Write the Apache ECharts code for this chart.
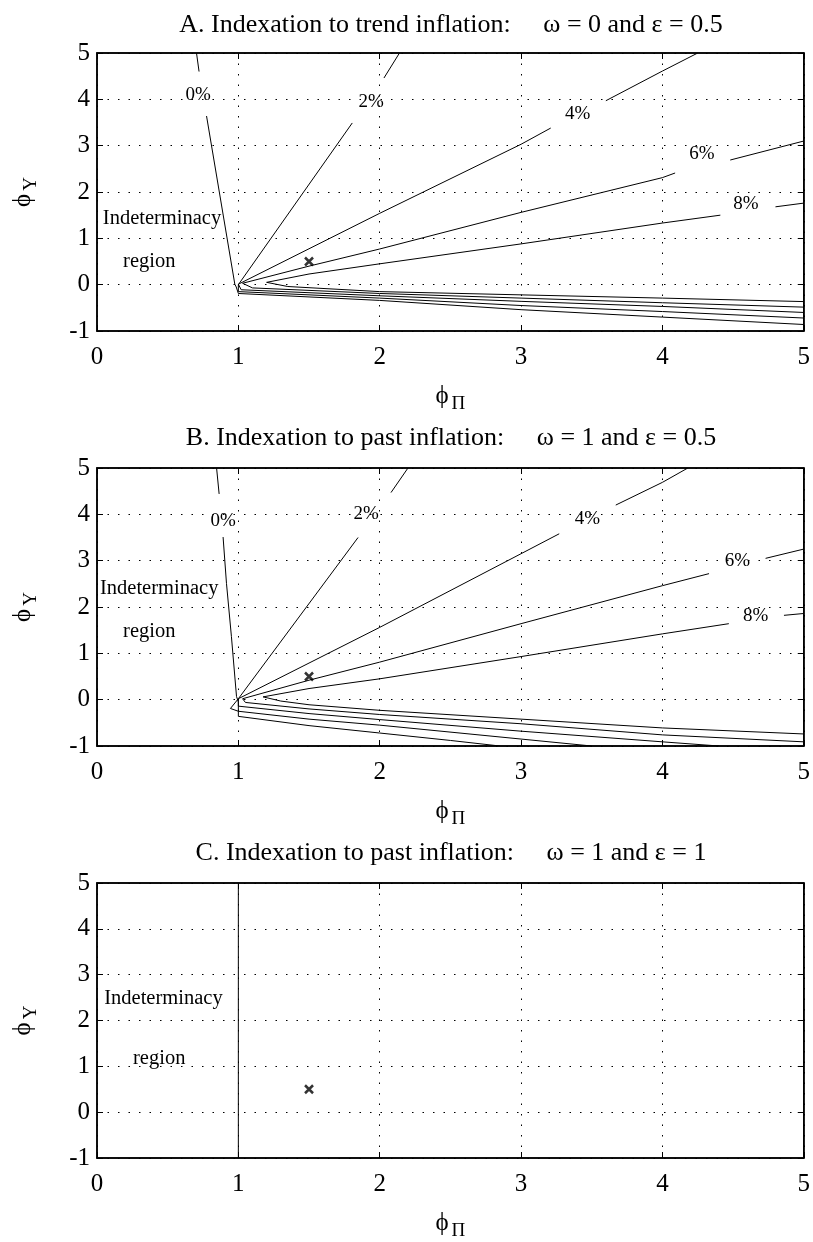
<!DOCTYPE html>
<html lang="en">
<head>
  <meta charset="UTF-8">
  <title>Indeterminacy regions</title>
  <script src="https://cdn.jsdelivr.net/npm/echarts@6/dist/echarts.min.js"></script>
  <style>
    html, body { margin: 0; padding: 0; background: #fff; }
    #chart { width: 813px; height: 1242px; }
  </style>
</head>
<body>
<div id="chart"></div>
<script>
  // titles of the three panels
  var panelTitles = [
    'A. Indexation to trend inflation:     \u03c9 = 0 and \u03b5 = 0.5',
    'B. Indexation to past inflation:     \u03c9 = 1 and \u03b5 = 0.5',
    'C. Indexation to past inflation:     \u03c9 = 1 and \u03b5 = 1'
  ];
  var levels = ['0%', '2%', '4%', '6%', '8%'];

  // panel A contours (null = gap for the label)
  var a0 = [[0.704, 5], [0.722, 4.6], null, [0.775, 3.64], [0.975, 0.01], [0.985, -0.05], [1.0, -0.19], [2, -0.34], [3, -0.54], [4, -0.70], [5, -0.86]];
  var a2 = [[2.14, 5], [2.03, 4.46], null, [1.806, 3.49], [1.0, 0.0], [1.0, -0.15], [2, -0.29], [3, -0.45], [4, -0.58], [5, -0.72]];
  var a4 = [[4.25, 5], [4, 4.61], [3.60, 3.97], null, [3.21, 3.38], [3, 3.03], [2, 1.54], [1.0, 0.01], [1.02, -0.11], [2, -0.24], [3, -0.36], [4, -0.47], [5, -0.60]];
  var a6 = [[5, 3.1], [4.48, 2.69], null, [4.09, 2.41], [4, 2.31], [3, 1.56], [2, 0.77], [1.5, 0.40], [1.03, 0.03], [1.1, -0.07], [2, -0.19], [3, -0.29], [4, -0.39], [5, -0.485]];
  var a8 = [[5, 1.76], [4.80, 1.68], null, [4.41, 1.5], [4, 1.33], [3, 0.88], [2, 0.45], [1.5, 0.23], [1.2, 0.05], [1.35, -0.04], [2, -0.15], [3, -0.22], [4, -0.29], [5, -0.365]];
  var aLabelPos = [[0.715, 4.1], [1.94, 3.95], [3.40, 3.69], [4.28, 2.81], [4.59, 1.74]];

  // panel B contours
  var b0 = [[0.846, 5], [0.864, 4.44], null, [0.892, 3.51], [0.916, 2.51], [0.951, 1.36], [0.987, 0.07], [1.0, -0.05], [1.0, -0.36], [1.5, -0.56], [2, -0.72], [2.5, -0.88], [2.85, -1]];
  var b2 = [[2.2, 5], [2.08, 4.47], null, [1.847, 3.5], [1.0, 0.02], [0.944, -0.19], [1.0, -0.25], [1.5, -0.42], [2, -0.55], [3, -0.85], [3.5, -1]];
  var b4 = [[4.18, 5], [4, 4.69], [3.67, 4.2], null, [3.27, 3.58], [3, 3.15], [2, 1.56], [1.0, 0.02], [1.0, -0.14], [1.5, -0.30], [2, -0.43], [3, -0.68], [4, -0.91], [4.4, -1]];
  var b6 = [[5, 3.25], [4.73, 3.05], null, [4.33, 2.72], [4, 2.46], [3, 1.64], [2, 0.81], [1.5, 0.42], [1.03, 0.02], [1.05, -0.06], [1.5, -0.2], [2, -0.32], [3, -0.52], [4, -0.76], [5, -0.91]];
  var b8 = [[5, 1.86], [4.86, 1.82], null, [4.47, 1.64], [4, 1.42], [3, 0.93], [2, 0.45], [1.5, 0.24], [1.175, 0.06], [1.3, -0.03], [1.5, -0.11], [2, -0.23], [3, -0.42], [4, -0.61], [5, -0.74]];
  var bLabelPos = [[0.892, 3.86], [1.905, 4.0], [3.47, 3.9], [4.53, 3.0], [4.66, 1.8]];

  // panel C: determinacy boundary
  var c0 = [[1, -1], [1, 5]];

  // Taylor rule point (phi_pi, phi_y)
  var ruleMark = [1.5, 0.5];

  // "Indeterminacy region" text anchors per panel
  var regionText = ['Indeterminacy', 'region'];
  var regionPos = [
    [[0.46, 1.42], [0.37, 0.5]],
    [[0.44, 2.39], [0.37, 1.47]],
    [[0.47, 2.48], [0.44, 1.16]]
  ];

  var contours = [[a0, a2, a4, a6, a8], [b0, b2, b4, b6, b8], [c0]];
  var labelPos = [aLabelPos, bLabelPos, []];

  var serif = '"Liberation Serif", "Times New Roman", serif';
  var gridTops = [53, 468, 883];
  var titleTops = [12, 425, 840];

  var chart = echarts.init(document.getElementById('chart'));

  function splitSegments(pts) {
    var segs = [], cur = [];
    pts.forEach(function (p) {
      if (p === null) { if (cur.length) segs.push(cur); cur = []; }
      else cur.push(p);
    });
    if (cur.length) segs.push(cur);
    return segs;
  }

  var textLabel = function (size) {
    return {
      show: true, position: 'inside', formatter: '{b}', color: '#000',
      fontSize: size, fontFamily: serif, textBorderWidth: 0, opacity: 1
    };
  };

  var grids = [], xAxes = [], yAxes = [], series = [], titles = [];

  for (var i = 0; i < 3; i++) {
    grids.push({ left: 97, top: gridTops[i], width: 708, height: 278, show: true, borderColor: '#000', borderWidth: 1.5 });
    titles.push({
      text: panelTitles[i], left: 451, top: titleTops[i], textAlign: 'center', padding: 0,
      textStyle: { fontSize: 26, fontWeight: 'normal', fontFamily: serif, color: '#000' }
    });
    // bottom axis with labels and grid
    xAxes.push({
      gridIndex: i, type: 'value', min: 0, max: 5, interval: 1, position: 'bottom',
      axisLine: { show: true, onZero: false, lineStyle: { color: '#000', width: 1.5 } },
      axisTick: { show: true, inside: true, length: 6, lineStyle: { color: '#000' } },
      axisLabel: { color: '#000', fontSize: 25, fontFamily: serif, margin: 14 },
      splitLine: { show: true, lineStyle: { color: '#000', type: [1.5, 9], width: 1 } },
      name: '{p|\u03d5}{s|\u03a0}', nameLocation: 'middle', nameGap: 48,
      nameTextStyle: { rich: {
        p: { fontSize: 25, fontFamily: serif, color: '#000' },
        s: { fontSize: 19, fontFamily: serif, color: '#000', padding: [16, 0, 0, 3] }
      } }
    });
    // top axis, ticks only
    xAxes.push({
      gridIndex: i, type: 'value', min: 0, max: 5, interval: 1, position: 'top',
      axisLine: { show: true, onZero: false, lineStyle: { color: '#000', width: 1.5 } },
      axisTick: { show: true, inside: true, length: 6, lineStyle: { color: '#000' } },
      axisLabel: { show: false }, splitLine: { show: false }
    });
    yAxes.push({
      gridIndex: i, type: 'value', min: -1, max: 5, interval: 1, position: 'left',
      axisLine: { show: true, onZero: false, lineStyle: { color: '#000', width: 1.5 } },
      axisTick: { show: true, inside: true, length: 6, lineStyle: { color: '#000' } },
      axisLabel: { color: '#000', fontSize: 25, fontFamily: serif, margin: 7 },
      splitLine: { show: true, lineStyle: { color: '#000', type: [1.5, 9], width: 1 } },
      name: '{p|\u03d5}{s|Y}', nameLocation: 'middle', nameGap: 56, nameRotate: 90,
      nameTextStyle: { rich: {
        p: { fontSize: 25, fontFamily: serif, color: '#000' },
        s: { fontSize: 19, fontFamily: serif, color: '#000', padding: [16, 0, 0, 3] }
      } }
    });
    yAxes.push({
      gridIndex: i, type: 'value', min: -1, max: 5, interval: 1, position: 'right',
      axisLine: { show: true, onZero: false, lineStyle: { color: '#000', width: 1.5 } },
      axisTick: { show: true, inside: true, length: 6, lineStyle: { color: '#000' } },
      axisLabel: { show: false }, splitLine: { show: false }
    });

    var xi = i * 2, yi = i * 2;

    contours[i].forEach(function (c) {
      splitSegments(c).forEach(function (seg) {
        series.push({
          type: 'line', xAxisIndex: xi, yAxisIndex: yi, data: seg,
          showSymbol: false, symbol: 'none', silent: true,
          lineStyle: { color: '#000', width: 1 }
        });
      });
    });

    if (labelPos[i].length) {
      series.push({
        type: 'scatter', xAxisIndex: xi, yAxisIndex: yi, symbolSize: 0, silent: true,
        itemStyle: { color: '#000' },
        data: labelPos[i].map(function (p, k) { return { value: p, name: levels[k] }; }),
        label: textLabel(19)
      });
    }

    series.push({
      type: 'scatter', xAxisIndex: xi, yAxisIndex: yi, symbolSize: 0, silent: true,
      itemStyle: { color: '#000' },
      data: regionPos[i].map(function (p, k) { return { value: p, name: regionText[k] }; }),
      label: textLabel(20.5)
    });

    series.push({
      type: 'scatter', xAxisIndex: xi, yAxisIndex: yi, silent: true,
      symbol: 'path://M0,0L10,10M10,0L0,10', symbolSize: 8,
      itemStyle: { color: 'transparent', borderColor: '#000', borderWidth: 2.5 },
      data: [ruleMark]
    });
  }

  chart.setOption({
    animation: false,
    backgroundColor: '#fff',
    title: titles,
    grid: grids,
    xAxis: xAxes,
    yAxis: yAxes,
    series: series
  });
</script>
</body>
</html>
